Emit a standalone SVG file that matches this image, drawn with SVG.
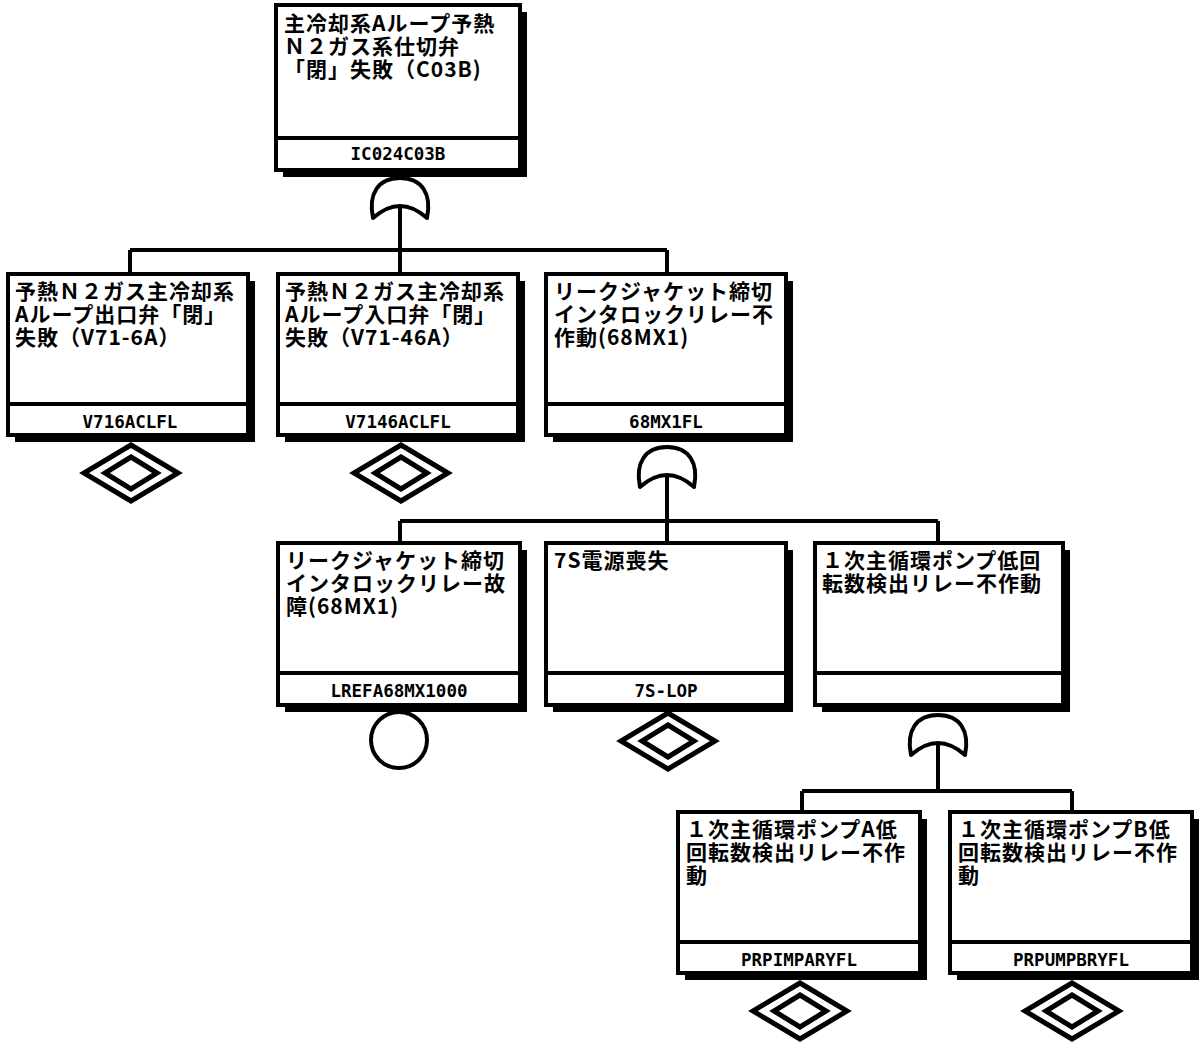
<svg xmlns="http://www.w3.org/2000/svg" width="1201" height="1045" viewBox="0 0 1201 1045">
<style>
.sh{fill:#000}
.bx{fill:#fff;stroke:#000;stroke-width:4}
.sep{stroke:#000;stroke-width:4}
.t{font-family:"Noto Sans CJK JP","Noto Sans",sans-serif;font-weight:bold;font-size:21px;letter-spacing:1px;fill:#000}
.lb{font-family:"DejaVu Sans Mono","Liberation Mono",monospace;font-weight:bold;font-size:17.5px;fill:#000;text-anchor:middle}
.c{stroke:#000;stroke-width:4;fill:none}
.g{fill:#fff;stroke:#000;stroke-width:4;stroke-linejoin:round}
.d{fill:#fff;stroke:#000;stroke-width:5;stroke-linejoin:miter}
</style>
<defs>
<path id="or" class="g" d="M-27,40 C-32,16 -22,0 0,0 C22,0 32,16 27,40 Q0,16 -27,40 Z"/>
<g id="dia"><polygon class="d" points="0,-28 47,0 0,28 -47,0"/><polygon class="d" points="0,-16 26,0 0,16 -26,0"/></g>
</defs>
<rect width="1201" height="1045" fill="#fff"/>
<g id="connectors">
<path class="c" d="M130,250 H667 M130,250 V274 M400,206 V274 M667,250 V274"/>
<path class="c" d="M400,521 H938 M400,521 V543 M667,475 V543 M938,521 V543"/>
<path class="c" d="M802,791 H1072 M802,791 V812 M938,743 V791 M1072,791 V812"/>
</g>
<g id="n-top">
<rect class="sh" x="283" y="12" width="244" height="165"/>
<rect class="bx" x="276" y="5" width="244" height="165"/>
<line class="sep" x1="276" y1="138" x2="520" y2="138"/>
<text class="t" x="284" y="31">主冷却系Aループ予熱</text>
<text class="t" x="284" y="54">Ｎ２ガス系仕切弁</text>
<text class="t" x="284" y="77">「閉」失敗（C03B)</text>
<text class="lb" x="398" y="160">IC024C03B</text>
<use href="#or" x="400" y="178"/>
</g>
<g id="n-v716">
<rect class="sh" x="15" y="281" width="240" height="161"/>
<rect class="bx" x="8" y="274" width="240" height="161"/>
<line class="sep" x1="8" y1="404" x2="248" y2="404"/>
<text class="t" x="15" y="299">予熱Ｎ２ガス主冷却系</text>
<text class="t" x="15" y="322">Aループ出口弁「閉」</text>
<text class="t" x="15" y="345">失敗（V71-6A）</text>
<text class="lb" x="130" y="428">V716ACLFL</text>
<use href="#dia" x="131" y="473"/>
</g>
<g id="n-v7146">
<rect class="sh" x="285" y="281" width="240" height="161"/>
<rect class="bx" x="278" y="274" width="240" height="161"/>
<line class="sep" x1="278" y1="404" x2="518" y2="404"/>
<text class="t" x="285" y="299">予熱Ｎ２ガス主冷却系</text>
<text class="t" x="285" y="322">Aループ入口弁「閉」</text>
<text class="t" x="285" y="345">失敗（V71-46A）</text>
<text class="lb" x="398" y="428">V7146ACLFL</text>
<use href="#dia" x="401" y="473"/>
</g>
<g id="n-68mx1fl">
<rect class="sh" x="553" y="281" width="240" height="161"/>
<rect class="bx" x="546" y="274" width="240" height="161"/>
<line class="sep" x1="546" y1="404" x2="786" y2="404"/>
<text class="t" x="554" y="299">リークジャケット締切</text>
<text class="t" x="554" y="322">インタロックリレー不</text>
<text class="t" x="554" y="345">作動(68MX1)</text>
<text class="lb" x="666" y="428">68MX1FL</text>
<use href="#or" x="667" y="447"/>
</g>
<g id="n-lrefa">
<rect class="sh" x="285" y="550" width="242" height="162"/>
<rect class="bx" x="278" y="543" width="242" height="162"/>
<line class="sep" x1="278" y1="673" x2="520" y2="673"/>
<text class="t" x="286" y="568">リークジャケット締切</text>
<text class="t" x="286" y="591">インタロックリレー故</text>
<text class="t" x="286" y="614">障(68MX1)</text>
<text class="lb" x="399" y="697">LREFA68MX1000</text>
<circle cx="399" cy="740" r="28" fill="#fff" stroke="#000" stroke-width="4"/>
</g>
<g id="n-7slop">
<rect class="sh" x="553" y="550" width="240" height="162"/>
<rect class="bx" x="546" y="543" width="240" height="162"/>
<line class="sep" x1="546" y1="673" x2="786" y2="673"/>
<text class="t" x="554" y="568">7S電源喪失</text>
<text class="lb" x="666" y="697">7S-LOP</text>
<use href="#dia" x="668" y="741"/>
</g>
<g id="n-pump">
<rect class="sh" x="822" y="550" width="248" height="162"/>
<rect class="bx" x="815" y="543" width="248" height="162"/>
<line class="sep" x1="815" y1="673" x2="1063" y2="673"/>
<text class="t" x="822" y="568">１次主循環ポンプ低回</text>
<text class="t" x="822" y="591">転数検出リレー不作動</text>
<use href="#or" x="938" y="715"/>
</g>
<g id="n-pumpa">
<rect class="sh" x="685" y="819" width="242" height="161"/>
<rect class="bx" x="678" y="812" width="242" height="161"/>
<line class="sep" x1="678" y1="942" x2="920" y2="942"/>
<text class="t" x="686" y="837">１次主循環ポンプA低</text>
<text class="t" x="686" y="860">回転数検出リレー不作</text>
<text class="t" x="686" y="883">動</text>
<text class="lb" x="799" y="966">PRPIMPARYFL</text>
<use href="#dia" x="800" y="1011"/>
</g>
<g id="n-pumpb">
<rect class="sh" x="957" y="819" width="242" height="161"/>
<rect class="bx" x="950" y="812" width="242" height="161"/>
<line class="sep" x1="950" y1="942" x2="1192" y2="942"/>
<text class="t" x="958" y="837">１次主循環ポンプB低</text>
<text class="t" x="958" y="860">回転数検出リレー不作</text>
<text class="t" x="958" y="883">動</text>
<text class="lb" x="1071" y="966">PRPUMPBRYFL</text>
<use href="#dia" x="1072" y="1011"/>
</g>
</svg>
